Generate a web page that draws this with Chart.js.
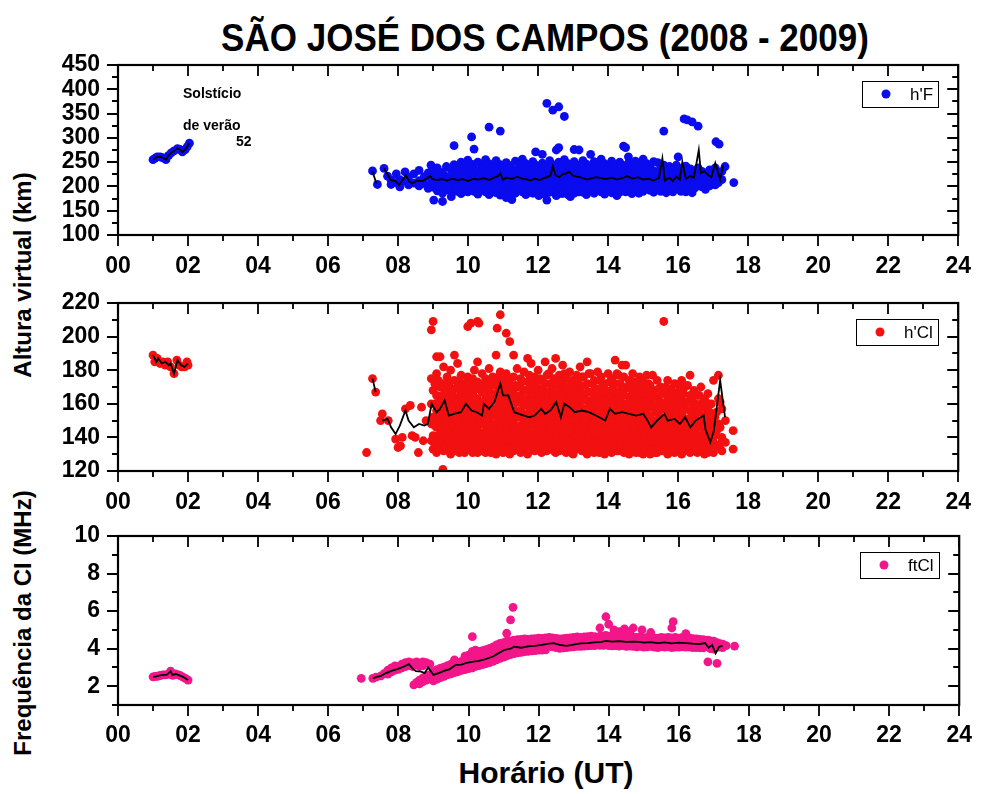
<!DOCTYPE html>
<html>
<head>
<meta charset="utf-8">
<script src="https://cdn.jsdelivr.net/npm/chart.js@4.4.0/dist/chart.umd.min.js"></script>
<style>
    body { margin: 0; background: #fff; width: 989px; height: 794px; position: relative; overflow: hidden; font-family: "Liberation Sans", Arial, sans-serif; }
    canvas { position: absolute; left: 0; }
    .t { position: absolute; white-space: nowrap; font-weight: bold; color: #000; line-height: 1; }
</style>
</head>
<body>
<div class="t" id="title" style="left:545px;top:18px;font-size:39px;transform-origin:0 0">SÃO JOSÉ DOS CAMPOS (2008 - 2009)</div>
<div class="t" style="left:23px;top:275px;font-size:24px;transform:translate(-50%,-50%) rotate(-90deg)">Altura virtual (km)</div>
<div class="t" style="left:23px;top:623px;font-size:24px;transform:translate(-50%,-50%) rotate(-90deg)">Frequência da CI (MHz)</div>
<div class="t" style="left:546px;top:758px;font-size:30px;transform:translateX(-50%)">Horário (UT)</div>

<canvas id="c1" width="989" height="265" style="top:25px"></canvas>
<canvas id="c2" width="989" height="257" style="top:263px"></canvas>
<canvas id="c3" width="989" height="264" style="top:496px"></canvas>

<div class="t" style="left:183px;top:86px;font-size:14px">Solstício</div>
<div class="t" style="left:183px;top:118px;font-size:14px">de verão</div>
<div class="t" style="left:236px;top:134px;font-size:14px">52</div>

<script>
// --- axis ticks ---
const hours = [0, 2, 4, 6, 8, 10, 12, 14, 16, 18, 20, 22, 24];
const hourLabels = ['00', '02', '04', '06', '08', '10', '12', '14', '16', '18', '20', '22', '24'];
const hfTicks = [100, 150, 200, 250, 300, 350, 400, 450];
const hclTicks = [120, 140, 160, 180, 200, 220];
const ftTicks = [2, 4, 6, 8, 10];

// --- h'F (km) ---
const hfEarly = [[1.0,255],[1.06,258],[1.12,261],[1.2,261],[1.28,259],[1.37,255],[1.45,264],[1.52,269],[1.6,273],[1.7,278],[1.77,276],[1.84,271],[1.92,276],[1.98,282],[2.04,289]];
const hfCols = [
    [7.27,[232]],[7.41,[204]],[7.6,[237]],[7.7,[221]],[7.8,[213,204]],[7.95,[226,208]],[8.05,[214,199]],[8.2,[230,211]],[8.3,[219,203]],[8.45,[226,207]],[8.6,[233,212,201]],[8.75,[220,206]],[8.86,[196,228]],[8.94,[244,217,205]],
    [9.02,[172,232,212,198]],[9.12,[238,222,206,191]],[9.27,[169,229,214,199,186]],[9.38,[241,220,207,193]],[9.52,[179,234,216,202,189]],[9.6,[284,245,225,210]],[9.69,[239,219,204,190]],[9.8,[250,231,213,198,185]],[9.9,[242,224,208,194]],[9.99,[254,235,218,203,189]],
    [10.1,[302,246,227,211,196]],[10.17,[277,236,220,205,190]],[10.28,[250,232,214,199,184]],[10.4,[243,226,209,194]],[10.5,[255,237,220,204,189]],[10.6,[322,247,229,213,198,183]],[10.7,[240,223,207,192]],[10.8,[253,234,217,201,187]],[10.92,[314,245,228,212,196,182]],
    [11.0,[238,221,205,190]],[11.09,[177,249,231,215,200]],[11.18,[243,226,209,194,184]],[11.25,[173,236,219,203]],[11.35,[252,233,216,200,186]],[11.45,[244,227,210,195]],[11.55,[256,238,221,205,189]],[11.65,[247,230,213,198,183]],[11.75,[240,223,207,192]],[11.85,[251,234,217,201,186]],[11.93,[271,244,227,210,195]],
    [12.02,[237,220,204,189,181]],[12.12,[266,248,231,214,199]],[12.2,[241,224,208,193,184]],[12.25,[371,172]],[12.33,[253,235,218,202,188]],[12.42,[357,245,228,211,196]],[12.52,[275,238,221,205,190,181]],[12.59,[364,280,250,232,215,200]],[12.68,[243,226,209,194,185]],[12.75,[344,255,236,219,203,189]],[12.85,[247,230,213,198,183]],[12.92,[179,240,223,207,192]],
    [13.03,[276,251,233,216,200,186]],[13.12,[244,227,210,195]],[13.17,[275,237,220,204,189]],[13.28,[253,235,218,202,188]],[13.38,[246,229,212,196,183]],[13.5,[266,240,223,207,192]],[13.6,[251,233,216,200,186]],[13.7,[244,227,210,195]],[13.8,[256,238,221,205,189]],[13.9,[247,230,213,198,184]],
    [14.0,[240,223,207,192]],[14.1,[252,234,217,201,187]],[14.2,[245,228,211,196]],[14.25,[181]],[14.33,[250,232,215,200,188]],[14.44,[283,243,226,209,194]],[14.5,[280,236,219,203,189]],[14.58,[261,248,230,213,198]],[14.68,[241,224,208,193,185]],[14.78,[252,233,216,200]],[14.88,[245,228,211,196,186]],
    [15.0,[256,238,221,205,190]],[15.1,[247,229,212,197]],[15.2,[240,223,207,192]],[15.3,[251,232,215,200,188]],[15.42,[249,226,209,194]],[15.5,[238,220,204,190]],[15.59,[314,244,227,210]],[15.66,[187,232,216,200]],[15.75,[241,223,207,193]],[15.85,[235,218,202,189]],[15.95,[244,226,210,195]],
    [16.0,[261]],[16.08,[237,220,204,190]],[16.17,[339,230,213,198]],[16.22,[189,242,222]],[16.26,[337,207]],[16.35,[236,219,203,191]],[16.4,[333,187]],[16.48,[228,212,197]],[16.57,[324,238,220,204]],[16.68,[231,214,199]],[16.78,[225,209,194]],[16.9,[234,216,201]],
    [17.0,[228,211]],[17.06,[203,238]],[17.08,[292]],[17.15,[208,222]],[17.17,[287]],[17.25,[231,214]],[17.34,[241]],[17.59,[208]]
];
const hfMean = [
    [1.0,255],[1.06,258],[1.12,261],[1.2,261],[1.28,259],[1.37,255],[1.45,264],[1.52,269],[1.6,273],[1.7,278],[1.77,276],[1.84,271],[1.92,276],[1.98,282],[2.04,289],[4.5,null],
    [7.27,231],[7.38,206],[7.5,null],
    [7.6,237],[7.7,225],[7.79,213],[7.93,211],[8.03,203],[8.12,212],[8.22,223],[8.32,210],[8.41,206],[8.55,212],[8.69,211],[8.8,215],[8.92,222],[8.97,216],
    [9.1,213],[9.25,215],[9.4,212],[9.55,216],[9.7,213],[9.85,215],[10.0,211],[10.15,216],[10.3,214],[10.45,217],[10.6,213],[10.75,218],[10.85,221],[10.92,227],
    [11.0,214],[11.1,218],[11.25,215],[11.4,220],[11.55,216],[11.7,214],[11.76,212],[11.9,216],[12.05,213],[12.2,218],[12.35,222],[12.42,241],[12.5,223],[12.6,219],[12.7,225],[12.8,227],[12.89,230],
    [13.0,222],[13.1,220],[13.25,218],[13.4,214],[13.5,216],[13.65,219],[13.8,217],[13.95,215],[14.1,218],[14.25,214],[14.4,217],[14.55,221],[14.7,216],[14.85,219],
    [15.0,214],[15.15,216],[15.3,212],[15.45,217],[15.55,258],[15.62,212],[15.75,218],[15.85,211],[15.95,220],[16.05,214],[16.12,251],[16.22,216],[16.35,221],[16.45,218],[16.59,275],[16.65,228],[16.75,231],[16.85,224],[16.95,219],[17.06,248],[17.2,214],[17.29,244]
];

// --- h'Cl (km) ---
const hclEarly = [[1.0,189],[1.05,185],[1.12,187],[1.2,184],[1.28,185],[1.35,183],[1.42,185],[1.5,182],[1.6,178],[1.68,186],[1.75,183],[1.82,182],[1.9,182],[1.97,185],[2.0,183]];
const hclCols = [
    [7.1,[131]],[7.27,[175]],[7.36,[167]],[7.5,[150]],[7.55,[154]],[7.72,[150]],[7.93,[139]],[8.0,[134]],[8.07,[135]],[8.12,[140]],[8.21,[157]],[8.35,[159]],[8.4,[141]],[8.49,[140]],[8.58,[131]],[8.67,[158]],[8.72,[138]],[8.8,[150]],
    [8.95,[204,175,160,148,138]],[9.0,[209,168,152,141,133]],[9.1,[188,178,165,156,146,137,131]],[9.2,[188,170,160,150,142,134]],[9.28,[121]],[9.3,[182,172,163,155,147,139,132]],[9.4,[176,166,158,149,141,133]],[9.5,[180,169,161,152,144,136,130]],[9.61,[189,174,164,156,147,139,132]],[9.7,[184,170,160,151,143,135]],[9.8,[177,167,158,150,141,134]],[9.9,[172,163,155,146,138,131]],
    [9.99,[206,176,166,157,149,140,133]],[10.08,[208,170,161,153,144,136]],[10.18,[180,168,159,150,142,134]],[10.27,[209,185,173,163,154,146,137,131]],[10.31,[208]],[10.4,[178,167,158,149,140,132]],[10.5,[175,165,156,147,139,131]],[10.6,[181,170,161,152,143,135]],[10.7,[176,166,157,148,140,132]],[10.8,[189,172,163,154,145,137,130]],[10.83,[205]],[10.92,[213,179,168,159,150,142,134]],
    [11.0,[174,165,156,147,139,131]],[11.09,[202,178,169,160,151,143,135]],[11.19,[197,172,162,153,145,137,130]],[11.3,[189,176,166,157,148,140,132]],[11.4,[181,170,161,152,143,135]],[11.5,[175,165,156,147,139,131]],[11.6,[179,168,159,150,141,133]],[11.7,[187,173,163,154,146,137,130]],[11.8,[184,170,160,151,142,134]],[11.9,[176,166,157,148,140,132]],
    [12.0,[180,169,160,151,143,135]],[12.1,[174,164,155,146,138,131]],[12.2,[185,172,162,153,145,136]],[12.3,[178,167,158,149,141,133]],[12.4,[181,170,161,152,143,134]],[12.5,[187,174,164,155,147,138,131]],[12.6,[177,167,158,149,140,132]],[12.7,[183,171,162,153,144,136]],[12.8,[175,165,156,147,139,131]],[12.9,[179,168,159,150,142,134]],
    [13.0,[173,164,155,146,138,130]],[13.1,[177,167,158,149,141,133]],[13.2,[182,170,161,152,143,135]],[13.3,[176,166,157,148,140,132]],[13.4,[185,172,162,153,145,137,130]],[13.5,[178,167,158,149,141,133]],[13.6,[174,164,155,146,138,131]],[13.7,[179,168,159,150,142,134]],[13.8,[176,166,157,148,139,132]],[13.9,[172,163,154,145,137,130]],
    [14.0,[178,167,158,149,141,133]],[14.1,[175,165,156,147,138,131]],[14.2,[186,172,162,153,144,136]],[14.3,[177,166,157,148,140,132]],[14.4,[183,170,160,151,143,134]],[14.5,[183,169,159,150,141,133]],[14.6,[174,164,155,146,137,130]],[14.7,[178,167,158,149,140,132]],[14.8,[172,163,154,145,137,131]],[14.9,[176,166,157,148,139,131]],
    [15.0,[173,164,155,146,138,130]],[15.1,[177,166,157,148,140,132]],[15.2,[171,162,153,145,137,130]],[15.27,[177]],[15.3,[168,159,150,142,134]],[15.4,[174,164,155,146,138,131]],[15.5,[170,161,152,144,136]],[15.59,[209,167,158,149,141,133]],[15.7,[174,163,154,145,137,130]],[15.8,[169,160,151,143,135]],[15.9,[172,162,153,144,136,131]],
    [16.0,[167,158,149,141,133]],[16.1,[174,163,154,145,137,130]],[16.2,[170,160,151,142,134]],[16.34,[177,165,156,147,139,131]],[16.45,[168,158,149,140,132]],[16.55,[165,155,146,138,131]],[16.65,[170,160,150,141,133]],[16.75,[163,153,144,136,130]],[16.85,[166,156,147,138,131]],[16.95,[160,150,141,133]],
    [17.01,[174,146,137,131]],[17.1,[155,144,134]],[17.15,[177,163,148]],[17.25,[157,140,132]],[17.35,[150,137]],[17.57,[144,133]]
];
// in-between readings of the dense h'Cl cloud
const hclFill = [
    [9.05,[172,160,147,136]],[9.15,[174,161,151,141,133]],[9.25,[165,154,145,137]],[9.35,[168,159,151,143,135]],[9.45,[172,162,153,145,137]],[9.55,[165,156,148,140,133]],[9.65,[169,160,151,143,135]],[9.75,[174,164,155,147,139,131]],[9.85,[171,162,154,145,137]],[9.95,[168,160,151,142,135]],
    [10.03,[172,162,153,144,136]],[10.13,[175,165,156,148,139,131]],[10.23,[172,163,155,146,138]],[10.35,[169,160,151,142,135]],[10.45,[172,161,152,143,135]],[10.55,[168,160,151,143,134]],[10.65,[173,165,156,147,139,131]],[10.75,[171,162,153,144,136]],[10.86,[176,167,158,149,140,133]],[10.96,[172,163,154,145,137]],
    [11.05,[170,160,151,142,134]],[11.14,[174,165,156,147,139,132]],[11.25,[168,158,149,141,134]],[11.35,[171,162,153,144,136]],[11.45,[170,161,152,143,135]],[11.55,[173,163,153,144,136]],[11.65,[168,160,151,142,134]],[11.75,[177,167,158,149,140,132]],[11.85,[174,165,156,147,138]],[11.95,[171,162,153,144,136]],
    [12.05,[175,165,156,147,139,132]],[12.15,[169,160,151,142,134]],[12.25,[177,167,158,149,140,132]],[12.35,[172,163,154,145,137]],[12.45,[175,166,157,148,139,132]],[12.55,[171,162,153,144,136]],[12.65,[173,163,154,145,137]],[12.75,[178,167,158,149,140,132]],[12.85,[170,161,152,143,135]],[12.95,[174,164,155,146,138,131]],
    [13.05,[169,160,151,142,134]],[13.15,[173,163,154,145,137]],[13.25,[176,166,157,148,139,132]],[13.35,[171,162,153,144,136]],[13.45,[178,167,158,149,141,133]],[13.55,[172,162,153,144,136]],[13.65,[169,160,151,142,135]],[13.75,[174,164,155,146,137,131]],[13.85,[171,162,153,144,135]],[13.95,[168,159,150,141,134]],
    [14.05,[173,163,154,145,137]],[14.15,[170,161,152,143,135]],[14.25,[178,167,158,149,140,132]],[14.35,[172,162,153,144,136]],[14.45,[176,165,156,147,138,131]],[14.55,[170,160,151,142,135]],[14.65,[169,160,151,142,134]],[14.75,[173,163,154,145,136]],[14.85,[168,159,150,141,134]],[14.95,[171,162,153,144,135]],
    [15.05,[169,160,151,142,134]],[15.15,[172,162,153,144,136]],[15.25,[167,158,149,141,133]],[15.35,[164,155,146,138,131]],[15.45,[169,160,151,142,134]],[15.55,[166,157,148,140,132]],[15.65,[170,160,150,141,134]],[15.75,[165,156,147,139,131]],[15.85,[167,158,149,140,133]],[15.95,[163,154,145,137]],
    [16.05,[170,160,150,141,134]],[16.15,[166,156,147,139,132]],[16.27,[171,161,151,143,135]],[16.4,[163,153,144,136]],[16.5,[160,151,142,135]],[16.6,[165,155,146,137]],[16.7,[158,149,140,133]],[16.8,[161,152,143,135]],[16.9,[155,145,137]],[17.05,[152,141,134]],[17.2,[161,146,136]]
];
const hclMean = [
    [1.0,189],[1.1,185],[1.15,187],[1.25,184],[1.35,185],[1.45,183],[1.5,184],[1.6,178],[1.7,186],[1.8,183],[1.9,182],[2.0,184],[4.5,null],
    [7.27,175],[7.36,167],[7.45,null],
    [7.55,150],[7.7,151],[7.8,146],[7.93,142],[8.05,147],[8.21,156],[8.3,150],[8.45,146],[8.6,148],[8.75,147],[8.85,148],[8.96,160],
    [9.1,155],[9.2,157],[9.33,162],[9.45,153],[9.6,154],[9.8,155],[9.94,160],[10.1,156],[10.25,155],[10.4,153],[10.45,160],[10.6,157],[10.75,161],[10.92,172],
    [11.0,165],[11.15,165],[11.32,155],[11.45,154],[11.6,153],[11.75,152],[11.9,153],[12.09,157],[12.2,154],[12.35,156],[12.52,161],[12.65,152],[12.75,160],[12.9,158],
    [13.05,155],[13.25,156],[13.45,155],[13.65,153],[13.92,150],[14.05,157],[14.2,154],[14.4,155],[14.6,154],[14.8,153],
    [15.0,154],[15.1,151],[15.23,146],[15.4,150],[15.61,154],[15.7,150],[15.9,151],[16.05,148],[16.2,152],[16.35,146],[16.5,150],[16.73,153],[16.78,145],[16.92,137],[17.02,144],[17.2,174],[17.34,152]
];

// --- ftCl (MHz) ---
const ftEarly = [[1.0,2.5],[1.06,2.52],[1.12,2.53],[1.2,2.57],[1.28,2.6],[1.35,2.6],[1.42,2.63],[1.5,2.8],[1.56,2.58],[1.63,2.66],[1.7,2.62],[1.77,2.57],[1.84,2.5],[1.92,2.42],[2.0,2.33]];
const ftCols = [
    [6.94,[2.42]],[7.27,[2.42]],[7.36,[2.48]],[7.5,[2.55]],[7.6,[2.68]],[7.7,[2.86,2.64]],[7.8,[2.98,2.76]],[7.9,[3.08,2.85]],[8.0,[3.05,2.9]],[8.1,[3.18,2.98]],[8.2,[3.26,3.04]],[8.3,[3.3,3.1]],[8.4,[3.24,3.05]],[8.44,[2.07]],[8.52,[3.3,2.2]],[8.6,[3.22,3.05,2.32,2.12]],[8.7,[3.3,3.1,2.44,2.24]],[8.8,[3.25,2.55,2.33]],[8.9,[3.18,2.62,2.4]],
    [9.0,[2.78,2.52,2.28]],[9.1,[2.88,2.62,2.38]],[9.2,[2.96,2.7,2.46]],[9.3,[3.02,2.76,2.52]],[9.4,[3.1,2.84,2.6]],[9.5,[3.18,2.92,2.66]],[9.6,[3.4,3.2,2.96,2.72]],[9.7,[3.26,3.02,2.78]],[9.8,[3.32,3.08,2.84]],[9.9,[3.6,3.38,3.12,2.88]],
    [10.0,[3.66,3.42,3.18,2.94]],[10.11,[4.64,3.85,3.5,3.24,2.98]],[10.2,[3.92,3.56,3.3,3.05]],[10.3,[3.86,3.62,3.36,3.1]],[10.4,[3.9,3.66,3.4,3.15]],[10.5,[3.95,3.72,3.46,3.2]],[10.6,[4.02,3.78,3.52,3.26]],[10.7,[4.1,3.85,3.58,3.32]],[10.8,[4.2,3.95,3.68,3.4]],[10.9,[4.28,4.02,3.75,3.48]],
    [11.0,[4.32,4.08,3.82,3.55]],[11.09,[4.82,4.4,4.15,3.9,3.62]],[11.2,[5.53,4.42,4.18,3.94,3.68]],[11.27,[6.2]],[11.3,[4.45,4.22,3.98,3.74]],[11.4,[4.48,4.25,4.0,3.78]],[11.5,[4.5,4.26,4.02,3.8]],[11.6,[4.52,4.28,4.04,3.84]],[11.7,[4.5,4.27,4.03,3.86]],[11.8,[4.52,4.3,4.06,3.88]],[11.9,[4.54,4.32,4.08,3.9]],
    [12.0,[4.56,4.33,4.1,3.92]],[12.1,[4.55,4.32,4.08,3.92]],[12.2,[4.58,4.34,4.1,3.94]],[12.3,[4.6,4.36,4.12]],[12.4,[4.58,4.35,4.1]],[12.5,[4.55,4.32,4.06]],[12.6,[4.52,4.28,4.02]],[12.7,[4.54,4.3,4.04]],[12.8,[4.56,4.32,4.06]],[12.9,[4.58,4.34,4.08]],
    [13.0,[4.6,4.36,4.1]],[13.1,[4.62,4.38,4.12]],[13.2,[4.6,4.36,4.12]],[13.3,[4.62,4.38,4.14]],[13.4,[4.64,4.4,4.15]],[13.5,[4.66,4.42,4.16]],[13.6,[4.64,4.4,4.16]],[13.75,[5.1,4.66,4.42,4.18]],[13.85,[4.68,4.44,4.18]],[13.92,[5.7,4.7,4.45,4.2]],
    [14.0,[5.3,4.66,4.42,4.16]],[14.1,[4.64,4.4,4.15]],[14.15,[5.0]],[14.2,[4.66,4.42,4.16]],[14.3,[4.9,4.64,4.4,4.14]],[14.4,[4.66,4.42,4.16]],[14.45,[5.05]],[14.5,[4.62,4.38,4.12]],[14.6,[4.9,4.64,4.4,4.14]],[14.7,[5.1,4.62,4.38,4.12]],[14.8,[4.6,4.36,4.1]],[14.9,[4.62,4.38,4.12]],[14.95,[5.0]],
    [15.0,[4.58,4.34,4.08]],[15.1,[4.6,4.36,4.1]],[15.2,[4.86,4.62,4.38,4.12]],[15.3,[4.58,4.34,4.08]],[15.4,[4.56,4.32,4.06]],[15.5,[4.6,4.35,4.1]],[15.6,[4.58,4.33,4.08]],[15.7,[4.6,4.35,4.1]],[15.8,[5.1,4.58,4.32,4.06]],[15.84,[5.44]],[15.9,[4.6,4.34,4.08]],
    [16.0,[4.56,4.32,4.08]],[16.1,[4.6,4.35,4.1]],[16.2,[4.8,4.56,4.32,4.08]],[16.3,[4.58,4.33,4.08]],[16.4,[4.54,4.3,4.06]],[16.5,[4.52,4.3,4.06]],[16.6,[4.5,4.28,4.05]],[16.7,[4.48,4.26,4.04]],[16.83,[4.45,4.24,3.3]],[16.9,[4.42,4.2,4.0]],
    [17.0,[4.4,4.18,3.98]],[17.09,[4.32,3.22]],[17.15,[4.28,4.08]],[17.25,[4.24,4.06]],[17.35,[4.16]],[17.59,[4.14]]
];
const ftMean = [
    [1.0,2.5],[1.1,2.52],[1.2,2.58],[1.3,2.6],[1.4,2.62],[1.5,2.8],[1.55,2.6],[1.65,2.65],[1.75,2.58],[1.85,2.5],[1.95,2.38],[2.0,2.33],[4.5,null],
    [7.27,2.42],[7.36,2.48],[7.5,2.55],[7.65,2.7],[7.8,2.82],[7.95,2.9],[8.1,3.0],[8.3,3.18],[8.4,2.95],[8.5,2.8],[8.65,2.78],[8.75,2.7],[8.85,3.0],
    [9.0,2.6],[9.15,2.7],[9.3,2.82],[9.45,2.9],[9.64,3.14],[9.8,3.15],[9.95,3.25],[10.1,3.3],[10.3,3.35],[10.5,3.45],[10.7,3.58],[10.85,3.75],
    [11.02,3.93],[11.2,4.0],[11.3,4.11],[11.5,4.05],[11.7,4.12],[11.9,4.15],[12.1,4.2],[12.25,4.25],[12.43,4.29],[12.6,4.2],[12.8,4.15],
    [13.0,4.22],[13.2,4.28],[13.4,4.3],[13.6,4.33],[13.8,4.36],[13.92,4.41],[14.1,4.38],[14.3,4.4],[14.5,4.36],[14.7,4.38],[14.86,4.36],
    [15.0,4.32],[15.2,4.35],[15.4,4.3],[15.6,4.33],[15.8,4.28],[16.0,4.32],[16.2,4.3],[16.4,4.27],[16.6,4.25],[16.75,4.3],[16.85,4.05],[16.95,4.2],[17.05,3.75],[17.15,4.1],[17.25,4.15]
];

const tickFont = { family: '"Liberation Sans", Arial, sans-serif', size: 23, weight: 'bold' };

function cloud(early, ...colSets) {
    const pts = early.map(([x, y]) => ({ x, y }));
    colSets.forEach(cols => cols.forEach(([t, vs]) => vs.forEach(v => pts.push({ x: t, y: v }))));
    return pts;
}
const toXY = arr => arr.map(([x, y]) => ({ x, y }));

// frame, mirrored ticks (out on bottom/left, in on top/right) and the boxed legend
const framePlugin = {
    id: 'frame',
    afterDraw(chart, args, opts) {
        const { ctx, chartArea: a, scales: { x, y } } = chart;
        ctx.save();
        ctx.strokeStyle = '#000';
        ctx.lineWidth = 1.8;
        ctx.beginPath();
        for (let h = 0; h <= 24; h++) {
            const len = h % 2 === 0 ? 11 : 6;
            const px = Math.round(x.getPixelForValue(h));
            ctx.moveTo(px, a.bottom); ctx.lineTo(px, a.bottom + len);
            ctx.moveTo(px, a.top); ctx.lineTo(px, a.top + len);
        }
        const ys = chart.options.scales.y;
        for (let v = ys.min; v <= ys.max + 1e-6; v += opts.yMinor) {
            const len = opts.yTicks.includes(Math.round(v * 100) / 100) ? 11 : 6;
            const py = Math.round(y.getPixelForValue(v));
            ctx.moveTo(a.left - len, py); ctx.lineTo(a.left, py);
            ctx.moveTo(a.right - len, py); ctx.lineTo(a.right, py);
        }
        ctx.stroke();
        ctx.lineWidth = 2.2;
        ctx.strokeRect(a.left, a.top, a.right - a.left, a.bottom - a.top);

        // legend
        const bx = Math.round(a.right - 20 - opts.legendW), by = Math.round(a.top + 16);
        ctx.lineWidth = 1;
        ctx.strokeRect(bx + 0.5, by + 0.5, opts.legendW, 26);
        ctx.fillStyle = opts.color;
        ctx.beginPath();
        ctx.arc(bx + 24, by + 13, 4.5, 0, Math.PI * 2);
        ctx.fill();
        ctx.fillStyle = '#000';
        ctx.font = '17px "Liberation Sans", Arial, sans-serif';
        ctx.textBaseline = 'middle';
        ctx.fillText(opts.legendText, bx + 48, by + 14);
        ctx.restore();
    }
};

function makePanel(id, o) {
    new Chart(document.getElementById(id), {
        type: 'scatter',
        data: {
            datasets: [
                { type: 'line', data: toXY(o.mean), showLine: true, borderColor: '#000', borderWidth: 1.8, pointRadius: 0, spanGaps: false, tension: 0, order: 0 },
                { data: o.points, backgroundColor: o.color, borderWidth: 0, pointRadius: 4.4, order: 1 }
            ]
        },
        options: {
            responsive: false,
            animation: false,
            events: [],
            layout: { padding: { top: 40, right: 17, left: 0, bottom: 0 } },
            plugins: {
                legend: { display: false },
                tooltip: { enabled: false },
                frame: { yMinor: o.yMinor, yTicks: o.yTicks, color: o.color, legendText: o.legendText, legendW: o.legendW }
            },
            scales: {
                x: {
                    type: 'linear', min: 0, max: 24,
                    grid: { display: false, drawTicks: false },
                    border: { display: false },
                    afterBuildTicks: s => { s.ticks = hours.map(v => ({ value: v })); },
                    afterFit: s => { s.height = o.axisH; },
                    ticks: { autoSkip: false, maxRotation: 0, padding: o.xPad, color: '#000', font: tickFont,
                             callback: v => hourLabels[hours.indexOf(v)] }
                },
                y: {
                    min: o.yMin, max: o.yMax,
                    grid: { display: false, drawTicks: false },
                    border: { display: false },
                    afterBuildTicks: s => { s.ticks = o.yTicks.map(v => ({ value: v })); },
                    afterFit: s => { s.width = 118; },
                    ticks: { autoSkip: false, padding: 18, color: '#000', font: tickFont }
                }
            }
        },
        plugins: [framePlugin]
    });
}

makePanel('c1', { axisH: 55, xPad: 18, yMin: 100, yMax: 450, yTicks: hfTicks, yMinor: 25,
    points: cloud(hfEarly, hfCols), mean: hfMean, color: '#0b0bef', legendText: "h'F", legendW: 76 });
makePanel('c2', { axisH: 49, xPad: 18, yMin: 120, yMax: 220, yTicks: hclTicks, yMinor: 10,
    points: cloud(hclEarly, hclCols, hclFill), mean: hclMean, color: '#f21010', legendText: "h'Cl", legendW: 82 });
makePanel('c3', { axisH: 55, xPad: 17, yMin: 1, yMax: 10, yTicks: ftTicks, yMinor: 1,
    points: cloud(ftEarly, ftCols), mean: ftMean, color: '#f2168a', legendText: 'ftCl', legendW: 79 });

// squeeze the title to the width it has in the original
const title = document.getElementById('title');
const k = 648 / title.offsetWidth;
title.style.transform = `scaleX(${k}) translateX(-50%)`;
</script>
</body>
</html>
